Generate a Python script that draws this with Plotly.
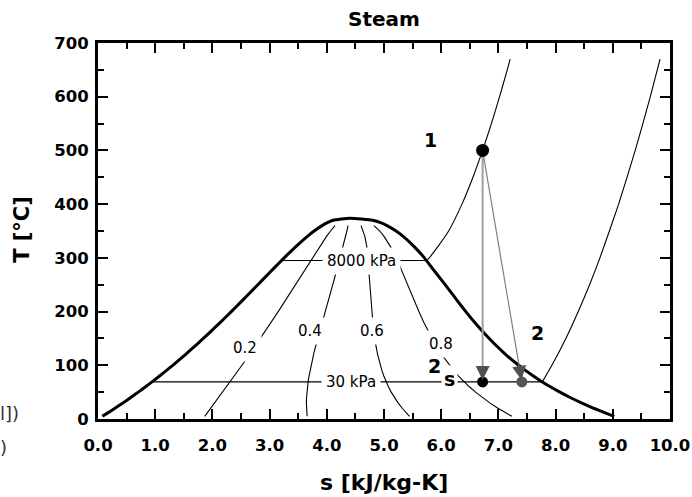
import plotly.graph_objects as go

# ---------------- data (steam tables) ----------------
T_sat = [5, 10, 20, 30, 40, 50, 60, 70, 80, 90, 100, 120, 140, 160, 180, 200,
         220, 240, 260, 280, 300, 320, 340, 350, 360, 365, 370, 373.95]
s_f = [0.0763, 0.1511, 0.2965, 0.4368, 0.5724, 0.7038, 0.8313, 0.9551, 1.0756,
       1.1929, 1.3072, 1.5279, 1.7392, 1.9426, 2.1392, 2.3305, 2.5177, 2.7020,
       2.8849, 3.0685, 3.2552, 3.4494, 3.6601, 3.7784, 3.9167, 4.0014, 4.1112, 4.4070]
s_g = [9.0249, 8.8999, 8.6661, 8.4520, 8.2555, 8.0748, 7.9081, 7.7540, 7.6111,
       7.4781, 7.3541, 7.1291, 6.9293, 6.7491, 6.5835, 6.4302, 6.2840, 6.1412,
       5.9969, 5.8489, 5.7059, 5.5362, 5.3357, 5.2112, 5.0526, 4.9525, 4.8012, 4.4070]

qualities = [0.2, 0.4, 0.6, 0.8]
quality_text = ["0.2", "0.4", "0.6", "0.8"]
quality_label_s = [2.57, 3.71, 4.79, 6.00]
quality_label_T = [132, 164, 164, 140]
quality_T_max = 360

# 8000 kPa isobar
hi_label = "8000 kPa"
hi_T_sat = 295.0
hi_s_f = 3.2068
hi_T_sup = [295.0, 300, 325, 350, 400, 450, 500, 550, 600, 650, 670]
hi_s_sup = [5.7432, 5.7906, 5.9700, 6.1301, 6.3634, 6.5551, 6.7240, 6.8778, 7.0206, 7.1548, 7.2050]
hi_label_s = 4.60

# 30 kPa isobar
lo_label = "30 kPa"
lo_T_sat = 69.09
lo_s_f = 0.9441
lo_T_sup = [69.09, 100, 150, 200, 250, 300, 400, 500, 600, 670]
lo_s_sup = [7.7675, 7.935, 8.180, 8.396, 8.594, 8.775, 9.102, 9.392, 9.656, 9.826]
lo_label_s = 4.42

# process states
state_s = {"1": 6.724, "2s": 6.724, "2": 7.41}
state_T = {"1": 500.0, "2s": 69.09, "2": 69.09}

x_ticks = [0, 1, 2, 3, 4, 5, 6, 7, 8, 9, 10]
y_ticks = [0, 100, 200, 300, 400, 500, 600, 700]

FONT = "DejaVu Sans"
fig = go.Figure()

# saturation dome
dome_s = s_f + s_g[::-1][1:]
dome_T = T_sat + T_sat[::-1][1:]
fig.add_trace(go.Scatter(x=dome_s, y=dome_T, mode="lines",
                         line=dict(color="black", width=3, shape="spline", smoothing=0.5),
                         hoverinfo="skip"))

# quality lines
for q in qualities:
    xs, ys = [], []
    for T, a, b in zip(T_sat, s_f, s_g):
        if T <= quality_T_max:
            xs.append(a + q * (b - a))
            ys.append(T)
    fig.add_trace(go.Scatter(x=xs, y=ys, mode="lines",
                             line=dict(color="black", width=1.1), hoverinfo="skip"))

# isobars: two-phase (horizontal) part and superheated part
thin = dict(color="black", width=1.1)
fig.add_trace(go.Scatter(x=[hi_s_f, hi_s_sup[0]], y=[hi_T_sat, hi_T_sat], mode="lines",
                         line=thin, hoverinfo="skip"))
fig.add_trace(go.Scatter(x=hi_s_sup, y=hi_T_sup, mode="lines",
                         line=dict(thin, shape="spline", smoothing=0.5), hoverinfo="skip"))
fig.add_trace(go.Scatter(x=[lo_s_f, lo_s_sup[0]], y=[lo_T_sat, lo_T_sat], mode="lines",
                         line=thin, hoverinfo="skip"))
fig.add_trace(go.Scatter(x=lo_s_sup, y=lo_T_sup, mode="lines",
                         line=dict(thin, shape="spline", smoothing=0.5), hoverinfo="skip"))

# process lines
fig.add_trace(go.Scatter(x=[state_s["1"], state_s["2s"]], y=[state_T["1"], state_T["2s"]],
                         mode="lines", line=dict(color="#a0a0a0", width=2), hoverinfo="skip"))
fig.add_trace(go.Scatter(x=[state_s["1"], state_s["2"]], y=[state_T["1"], state_T["2"]],
                         mode="lines", line=dict(color="#808080", width=1.2), hoverinfo="skip"))

# state markers
fig.add_trace(go.Scatter(x=[state_s["1"], state_s["2s"]], y=[state_T["1"], state_T["2s"]],
                         mode="markers", opacity=1,
                         marker=dict(color="#000000", size=[13, 11], opacity=1,
                                     line=dict(width=0)),
                         hoverinfo="skip"))
fig.add_trace(go.Scatter(x=[state_s["2"]], y=[state_T["2"]], mode="markers", opacity=1,
                         marker=dict(color="#555555", size=11, opacity=1, line=dict(width=0)),
                         hoverinfo="skip"))

ann = []
# arrow heads (short annotation arrows pointing at the end states along the process lines)
tail_frac = 0.07
for key in ["2s", "2"]:
    tx, ty = state_s[key], state_T[key]
    ann.append(dict(x=tx, y=ty, xref="x", yref="y", axref="x", ayref="y",
                    ax=tx + tail_frac * (state_s["1"] - tx),
                    ay=ty + tail_frac * (state_T["1"] - ty),
                    text="", showarrow=True, arrowhead=2, arrowsize=2.0, arrowwidth=1.4,
                    arrowcolor="#505050", standoff=2))

lbl_font = dict(family=FONT, size=15, color="black")
for txt, sx, ty in zip(quality_text, quality_label_s, quality_label_T):
    ann.append(dict(x=sx, y=ty, text=txt, showarrow=False, font=lbl_font,
                    bgcolor="white", borderpad=4))
ann.append(dict(x=hi_label_s, y=hi_T_sat, text=hi_label, showarrow=False, font=lbl_font,
                bgcolor="white", borderpad=4))
ann.append(dict(x=lo_label_s, y=lo_T_sat, text=lo_label, showarrow=False, font=lbl_font,
                bgcolor="white", borderpad=4))

bold19 = dict(family=FONT, size=19, color="black", weight="bold")
ann.append(dict(x=5.82, y=520, text="1", showarrow=False, font=bold19))
ann.append(dict(x=7.69, y=160, text="2", showarrow=False, font=bold19))
ann.append(dict(x=5.89, y=99, text="2", showarrow=False, font=bold19, bgcolor="white", borderpad=1))
ann.append(dict(x=6.14, y=74.5, text="s", showarrow=False, font=bold19, bgcolor="white", borderpad=2))

# axis titles
ann.append(dict(xref="paper", yref="paper", x=0.5, y=0, yanchor="middle", yshift=-63,
                text="s [kJ/kg-K]", showarrow=False,
                font=dict(family=FONT, size=22, color="black", weight="bold")))
ann.append(dict(xref="paper", yref="paper", x=0, y=0.503, xanchor="center", xshift=-76,
                text="T [°C]", textangle=-90, showarrow=False,
                font=dict(family=FONT, size=21, color="black", weight="bold")))
# clipped window fragments at the left edge
ann.append(dict(xref="paper", yref="paper", x=0, y=0, xanchor="right", yanchor="middle",
                xshift=-77, yshift=6, text="l])", showarrow=False,
                font=dict(family=FONT, size=18, color="#333333")))
ann.append(dict(xref="paper", yref="paper", x=0, y=0, xanchor="left", yanchor="middle",
                xshift=-100, yshift=-28, text=")", showarrow=False,
                font=dict(family=FONT, size=18, color="#333333")))

axis_common = dict(showline=True, linewidth=3, linecolor="black", mirror="ticks",
                   ticks="inside", ticklen=10, tickwidth=2, tickcolor="black",
                   showgrid=False, zeroline=False, automargin=False,
                   tickfont=dict(family=FONT, size=16.5, color="black", weight="bold"))

W, H = 692, 497
fig.update_layout(
    width=W, height=H,
    margin=dict(l=98, r=22, t=43, b=78, autoexpand=False),
    paper_bgcolor="white", plot_bgcolor="white",
    showlegend=False,
    title=dict(text="Steam", xref="paper", x=0.5, xanchor="center", y=1 - 19 / H,
               yanchor="middle", yref="container",
               font=dict(family=FONT, size=20, color="black", weight="bold")),
    xaxis=dict(range=[0, 10], tickvals=x_ticks, tickformat=".1f", ticklabelstandoff=9,
               minor=dict(dtick=0.5, ticks="inside", ticklen=6, tickwidth=2, tickcolor="black"),
               **axis_common),
    yaxis=dict(range=[0, 700], tickvals=y_ticks, ticklabelstandoff=3,
               minor=dict(dtick=50, ticks="inside", ticklen=6, tickwidth=2, tickcolor="black"),
               **axis_common),
    annotations=ann,
)

# place the figure flush with the window (no default body margin, no scrollbars)
fig.write_html("out.html",
               config={"displayModeBar": False},
               post_script="document.body.style.margin='0';"
                           "document.body.style.overflow='hidden';"
                           "document.documentElement.style.overflow='hidden';")
